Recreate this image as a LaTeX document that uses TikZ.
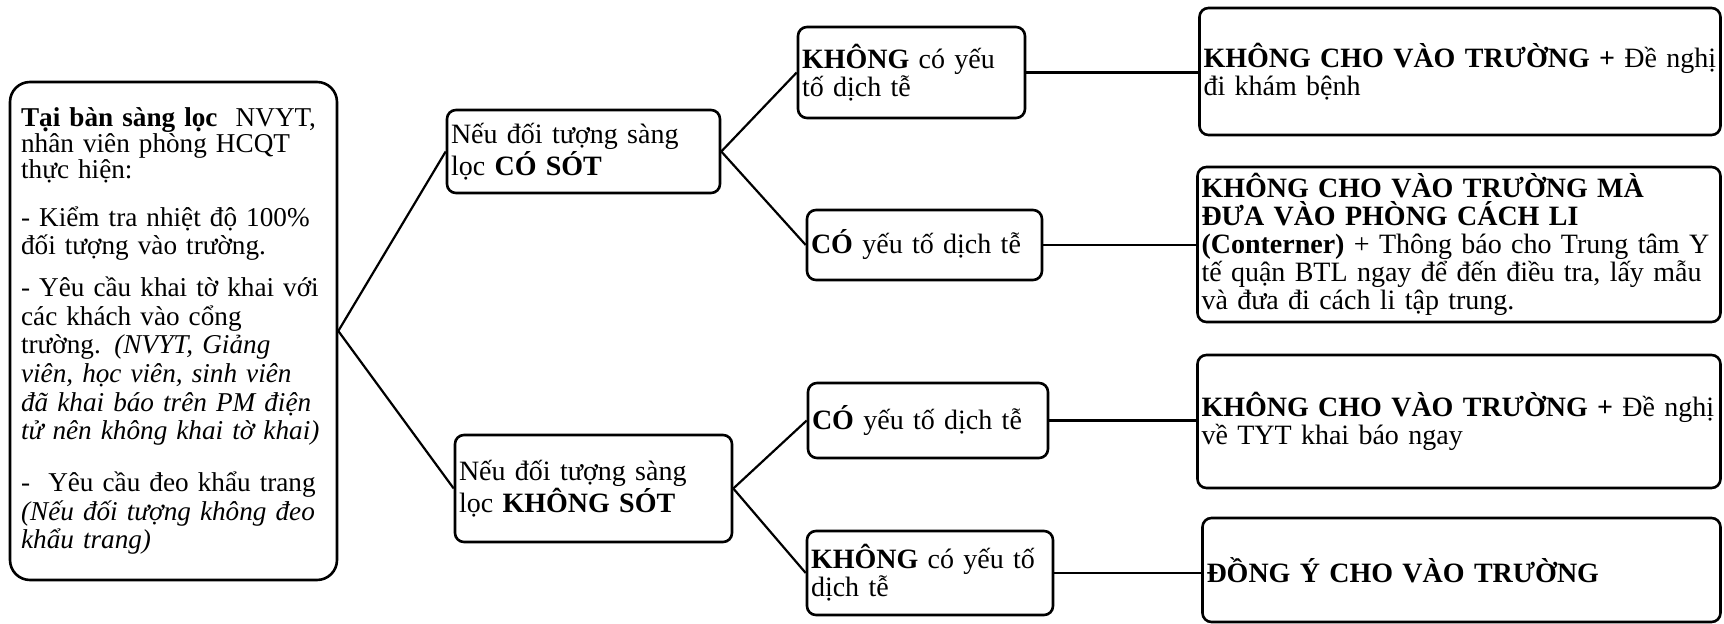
\documentclass[tikz,border=0pt]{standalone}
\usepackage{fontspec}
\setmainfont{Liberation Serif}
\newcommand\fsz{\fontsize{14pt}{14pt}\selectfont}
\newcommand\fszl{\fontsize{13.6pt}{14.3pt}\selectfont}
\begin{document}
\begin{tikzpicture}[x=0.5pt,y=-0.5pt,
  box/.style={draw, line width=1.3pt, rounded corners=4.5pt, inner xsep=2pt, inner ysep=0pt, align=left, font=\fsz},
  txt/.style={inner sep=0pt, align=left},
  conn/.style={line width=1.1pt}]
\useasboundingbox (0,0) rectangle (1724,624);
\fill[white] (0,0) rectangle (1724,624);

% left box
\node[box, rounded corners=10pt, minimum width=163.5pt, minimum height=249pt] (L) at (173.5,331) {};
\node[txt, font=\fszl, text width=165pt, anchor=west] (Lt) at ([xshift=6pt]L.west) {\textbf{Tại bàn sàng lọc}~ NVYT,\\[-1.3pt]
nhân viên phòng HCQT\\[-1.3pt]
thực hiện:\\[9.7pt]
- Kiểm tra nhiệt độ 100\%\\
đối tượng vào trường.\\[6.7pt]
- Yêu cầu khai tờ khai với\\
các khách vào cổng\\
trường. \textit{(NVYT, Giảng}\\
\textit{viên, học viên, sinh viên}\\
\textit{đã khai báo trên PM điện}\\
\textit{tử nên không khai tờ khai)}\\[11.7pt]
-~ Yêu cầu đeo khẩu trang\\
\textit{(Nếu đối tượng không đeo}\\
\textit{khẩu trang)}};

% middle boxes
\node[box, minimum width=136.5pt, minimum height=41.5pt, text width=132.5pt] (M1) at (583.5,151.5)
  {Nếu đối tượng sàng\\ lọc \textbf{CÓ SÓT}};
\node[box, minimum width=138.5pt, minimum height=53.5pt, text width=134.5pt] (M2) at (593.5,488.5)
  {Nếu đối tượng sàng\\ lọc \textbf{KHÔNG SÓT}};

% third column
\node[box, minimum width=113.5pt, minimum height=45.5pt, text width=109.5pt] (A) at (911.5,72.5)
  {\textbf{KHÔNG} có yếu\\ tố dịch tễ};
\node[box, minimum width=117.5pt, minimum height=35pt, text width=113.5pt] (B) at (924.5,245)
  {\textbf{CÓ} yếu tố dịch tễ};
\node[box, minimum width=120pt, minimum height=37.5pt, text width=116pt] (C) at (928,420.5)
  {\textbf{CÓ} yếu tố dịch tễ};
\node[box, minimum width=123pt, minimum height=42pt, text width=119pt] (D) at (930,573)
  {\textbf{KHÔNG} có yếu tố\\ dịch tễ};

% right column
\node[box, minimum width=260.5pt, minimum height=63.5pt, text width=256.5pt] (R1) at (1460,71.5)
  {\textbf{KHÔNG CHO VÀO TRƯỜNG +} Đề nghị\\ đi khám bệnh};
\node[box, minimum width=261.5pt, minimum height=77.5pt, text width=257.5pt] (R2) at (1459,244.5)
  {\textbf{KHÔNG CHO VÀO TRƯỜNG MÀ}\\
   \textbf{ĐƯA VÀO PHÒNG CÁCH LI}\\
   \textbf{(Conterner)} + Thông báo cho Trung tâm Y\\
   tế quận BTL ngay để đến điều tra, lấy mẫu\\
   và đưa đi cách li tập trung.};
\node[box, minimum width=261.5pt, minimum height=66.5pt, text width=257.5pt] (R3) at (1459,421.5)
  {\textbf{KHÔNG CHO VÀO TRƯỜNG +} Đề nghị\\ về TYT khai báo ngay};
\node[box, minimum width=259pt, minimum height=52pt, text width=255pt] (R4) at (1461.5,570)
  {\textbf{ĐỒNG Ý CHO VÀO TRƯỜNG}};

% connectors
\draw[conn] (L.east) -- (M1.west);
\draw[conn] (L.east) -- (M2.west);
\draw[conn] (M1.east) -- (A.west);
\draw[conn] (M1.east) -- (B.west);
\draw[conn] (M2.east) -- (C.west);
\draw[conn] (M2.east) -- (D.west);
\draw[conn] (A.east) -- (A.east -| R1.west);
\draw[conn] (B.east) -- (B.east -| R2.west);
\draw[conn] (C.east) -- (C.east -| R3.west);
\draw[conn] (D.east) -- (D.east -| R4.west);
\end{tikzpicture}
\end{document}
